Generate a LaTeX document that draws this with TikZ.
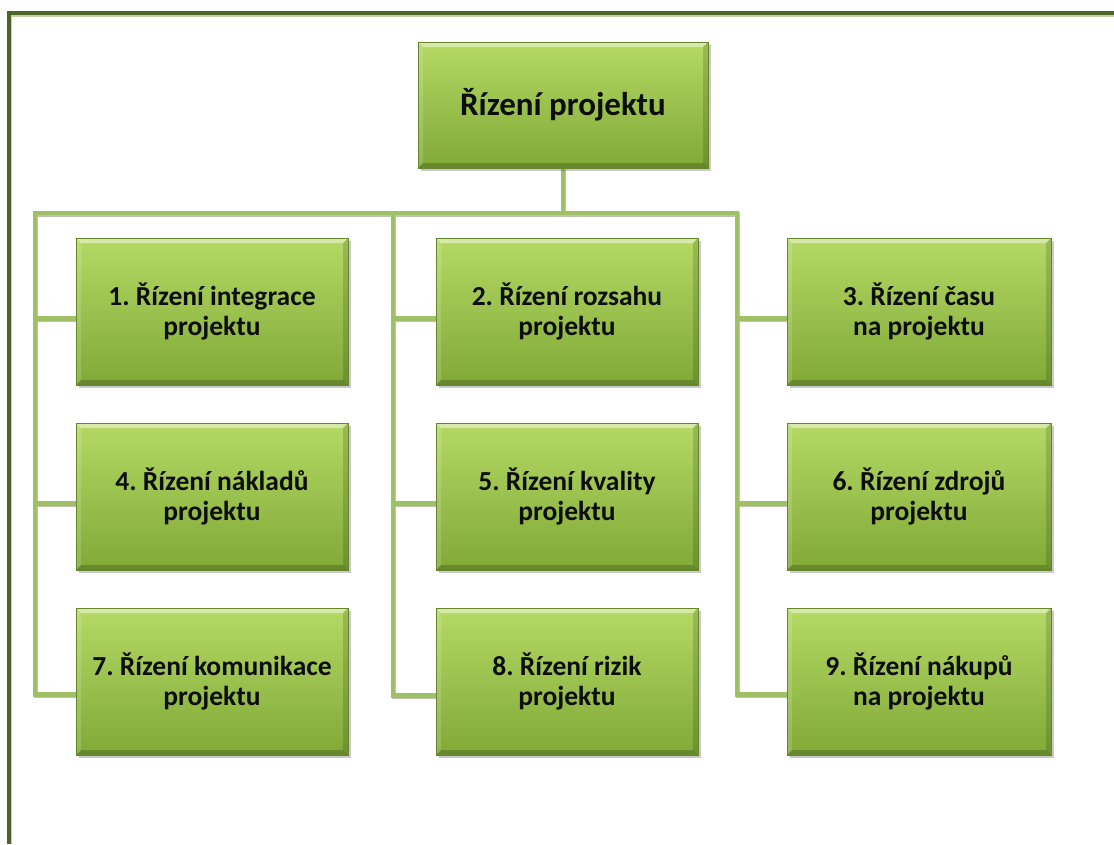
\documentclass[tikz,border=0pt]{standalone}
\usepackage{fontspec}
\setmainfont{Carlito}
\usetikzlibrary{shadows,backgrounds}
\frenchspacing

\definecolor{frame}{HTML}{4F6228}
\definecolor{framelight}{HTML}{C3CFA6}
\definecolor{boxtop}{HTML}{B5D965}
\definecolor{boxbot}{HTML}{80A936}
\definecolor{wire}{HTML}{A0C065}
\definecolor{wireshade}{HTML}{BDC4AE}

\tikzset{
  bevel/.style={path picture={
    \fill[white,opacity=0.45]
      (path picture bounding box.north west) -- (path picture bounding box.north east)
      -- ([xshift=-5pt,yshift=-5pt]path picture bounding box.north east)
      -- ([xshift=5pt,yshift=-5pt]path picture bounding box.north west) -- cycle;
    \fill[white,opacity=0.15]
      (path picture bounding box.north west) -- ([xshift=5pt,yshift=-5pt]path picture bounding box.north west)
      -- ([xshift=5pt,yshift=5pt]path picture bounding box.south west)
      -- (path picture bounding box.south west) -- cycle;
    \fill[black,opacity=0.14]
      (path picture bounding box.north east) -- ([xshift=-5pt,yshift=-5pt]path picture bounding box.north east)
      -- ([xshift=-5pt,yshift=5pt]path picture bounding box.south east)
      -- (path picture bounding box.south east) -- cycle;
    \fill[black,opacity=0.2]
      (path picture bounding box.south west) -- (path picture bounding box.south east)
      -- ([xshift=-5pt,yshift=5pt]path picture bounding box.south east)
      -- ([xshift=5pt,yshift=5pt]path picture bounding box.south west) -- cycle;
  }},
  box/.style={rectangle, top color=boxtop, bottom color=boxbot,
    draw=boxbot!80!black, line width=0.5pt, inner sep=0pt, align=center,
    text=black!95, minimum height=147pt,
    font=\bfseries\fontsize{27.5}{29.5}\selectfont,
    drop shadow={shadow xshift=2.5pt, shadow yshift=-3pt, opacity=0.3, fill=black!70},
    bevel},
  topbox/.style={box, minimum width=290pt, minimum height=126pt,
    font=\bfseries\fontsize{33}{36}\selectfont},
  wire/.style={draw=wire, line width=4.5pt, line join=miter},
  wireshadow/.style={draw=wireshade, line width=4.5pt, line join=miter},
}

\begin{document}
\begin{tikzpicture}[x=1pt,y=-1pt]
\useasboundingbox (0,0) rectangle (1114,844);

% outer frame (top and left edges only)
\draw[framelight, line width=1.2pt] (11.5,844) -- (11.5,16) -- (1114,16);
\draw[frame, line width=3.4pt, line join=miter] (9,844) -- (9,13) -- (1114,13);

% root
\node[topbox] (top) at (563,105) {Řízení projektu};

% knowledge areas, three columns
\node[box, minimum width=272pt] (b1) at (212,311.5) {1. Řízení integrace\\projektu};
\node[box, minimum width=262pt] (b2) at (567,311.5) {2. Řízení rozsahu\\projektu};
\node[box, minimum width=264pt] (b3) at (919,311.5) {3. Řízení času\\na projektu};
\node[box, minimum width=272pt] (b4) at (212,496.5) {4. Řízení nákladů\\projektu};
\node[box, minimum width=262pt] (b5) at (567,496.5) {5. Řízení kvality\\projektu};
\node[box, minimum width=264pt] (b6) at (919,496.5) {6. Řízení zdrojů\\projektu};
\node[box, minimum width=272pt] (b7) at (212,681.5) {7. Řízení komunikace\\projektu};
\node[box, minimum width=262pt] (b8) at (567,681.5) {8. Řízení rizik\\projektu};
\node[box, minimum width=264pt] (b9) at (919,681.5) {9. Řízení nákupů\\na projektu};

% bus points
\coordinate (j)  at (top.south |- 0,213);
\coordinate (c1) at (35,213);
\coordinate (c2) at (393,213);
\coordinate (c3) at (737,213);
\coordinate (s1) at ([yshift=-7pt]b1.west);
\coordinate (s2) at ([yshift=-7pt]b2.west);
\coordinate (s3) at ([yshift=-7pt]b3.west);
\coordinate (s4) at ([yshift=-7pt]b4.west);
\coordinate (s5) at ([yshift=-7pt]b5.west);
\coordinate (s6) at ([yshift=-7pt]b6.west);
\coordinate (s7) at ([yshift=-13pt]b7.west);
\coordinate (s8) at ([yshift=-14pt]b8.west);
\coordinate (s9) at ([yshift=-13pt]b9.west);

\begin{pgfonlayer}{background}
  % soft shadow of the connectors
  \begin{scope}[transform canvas={xshift=1.2pt,yshift=-1.6pt}]
    \draw[wireshadow] (top.south) -- (j);
    \draw[wireshadow] (s9) -| (c3) -- (c1) |- (s7);
    \draw[wireshadow] (c2) |- (s8);
    \draw[wireshadow] (c1 |- s1) -- (s1);
    \draw[wireshadow] (c1 |- s4) -- (s4);
    \draw[wireshadow] (c2 |- s2) -- (s2);
    \draw[wireshadow] (c2 |- s5) -- (s5);
    \draw[wireshadow] (c3 |- s3) -- (s3);
    \draw[wireshadow] (c3 |- s6) -- (s6);
  \end{scope}
  % connectors
  \draw[wire] (top.south) -- (j);
  \draw[wire] (s9) -| (c3) -- (c1) |- (s7);
  \draw[wire] (c2) |- (s8);
  \draw[wire] (c1 |- s1) -- (s1);
  \draw[wire] (c1 |- s4) -- (s4);
  \draw[wire] (c2 |- s2) -- (s2);
  \draw[wire] (c2 |- s5) -- (s5);
  \draw[wire] (c3 |- s3) -- (s3);
  \draw[wire] (c3 |- s6) -- (s6);
\end{pgfonlayer}
\end{tikzpicture}
\end{document}
